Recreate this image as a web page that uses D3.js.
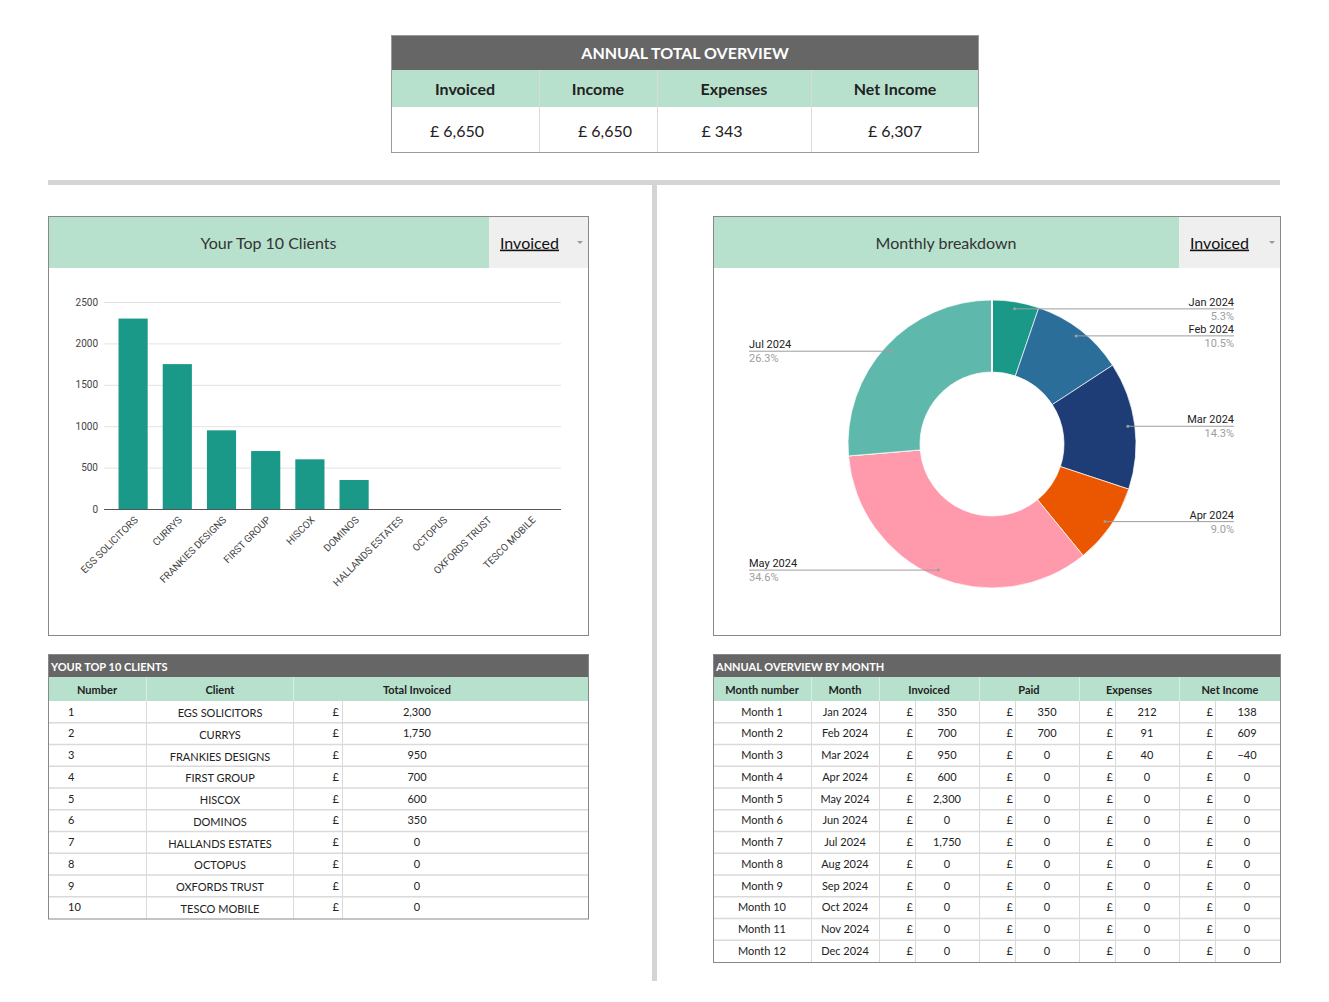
<!DOCTYPE html>
<html>
<head>
<meta charset="utf-8">
<script src="https://cdn.jsdelivr.net/npm/d3@7"></script>
<style>
  body { margin: 0; background: #fff; }
  svg { display: block; }
  .tbl { font-family: Lato, "Open Sans", sans-serif; }
  .chart { font-family: Roboto, Arial, sans-serif; }
</style>
</head>
<body>
<svg id="dash" width="1329" height="1002"></svg>
<script>
// ---- data ----
var totalLabels = ["Invoiced", "Income", "Expenses", "Net Income"];
var totalValues = [6650, 6650, 343, 6307];

var clients = ["EGS SOLICITORS", "CURRYS", "FRANKIES DESIGNS", "FIRST GROUP", "HISCOX",
    "DOMINOS", "HALLANDS ESTATES", "OCTOPUS", "OXFORDS TRUST", "TESCO MOBILE"];
var clientInvoiced = [2300, 1750, 950, 700, 600, 350, 0, 0, 0, 0];
var yTicks = [0, 500, 1000, 1500, 2000, 2500];

var months = ["Jan 2024", "Feb 2024", "Mar 2024", "Apr 2024", "May 2024", "Jun 2024",
    "Jul 2024", "Aug 2024", "Sep 2024", "Oct 2024", "Nov 2024", "Dec 2024"];
var monthInvoiced = [350, 700, 950, 600, 2300, 0, 1750, 0, 0, 0, 0, 0];
var monthPaid = [350, 700, 0, 0, 0, 0, 0, 0, 0, 0, 0, 0];
var monthExpenses = [212, 91, 40, 0, 0, 0, 0, 0, 0, 0, 0, 0];
var monthNet = [138, 609, -40, 0, 0, 0, 0, 0, 0, 0, 0, 0];
var monthColors = ["#1a9988", "#2c6e9a", "#1e3d76", "#eb5600", "#ff9aad", "#7a5195",
    "#5eb8ab", "#ffa600", "#003f5c", "#bc5090", "#58508d", "#ff6361"];

var DARK = "#666666", MINT = "#b7e1cd", LINE = "#dadada", BORDER = "#9a9a9a";
var fmt = d3.format(",");

var svg = d3.select("#dash");

// ---- annual total overview ----
var overview = svg.append("g").attr("class", "tbl");
var topX = 391, topW = [148, 118, 154, 168];
var topValX = [457, 605, 722, 895]; // value cells are not centred in the sheet
var topCols = topW.map(function (w, i) { return { x: topX + d3.sum(topW.slice(0, i)), w: w }; });
var topRight = topX + d3.sum(topW);

overview.append("rect").attr("x", topX).attr("y", 35).attr("width", topRight - topX).attr("height", 35).attr("fill", DARK);
overview.append("text").text("ANNUAL TOTAL OVERVIEW")
    .attr("x", (topX + topRight) / 2).attr("y", 53).attr("dy", ".35em")
    .attr("text-anchor", "middle").attr("fill", "#fff")
    .style("font-size", "16px").style("font-weight", "bold");
overview.append("rect").attr("x", topX).attr("y", 70).attr("width", topRight - topX).attr("height", 37).attr("fill", MINT);
overview.selectAll(".hd").data(totalLabels).join("text")
    .text(function (d) { return d; })
    .attr("x", function (d, i) { return topCols[i].x + topCols[i].w / 2; })
    .attr("y", 89).attr("dy", ".35em").attr("text-anchor", "middle")
    .attr("fill", "#222").style("font-size", "16px").style("font-weight", "bold");
overview.selectAll(".val").data(totalValues).join("text")
    .text(function (d) { return "£ " + fmt(d); })
    .attr("x", function (d, i) { return topValX[i]; })
    .attr("y", 131).attr("dy", ".35em").attr("text-anchor", "middle")
    .attr("fill", "#222").style("font-size", "16px");
overview.selectAll(".vl").data(topCols.slice(1)).join("line")
    .attr("x1", function (d) { return d.x + 0.5; }).attr("x2", function (d) { return d.x + 0.5; })
    .attr("y1", 70).attr("y2", 153).attr("stroke", LINE);
overview.append("rect").attr("x", topX + 0.5).attr("y", 35.5).attr("width", topRight - topX - 1).attr("height", 117)
    .attr("fill", "none").attr("stroke", BORDER);

// ---- separators ----
svg.append("rect").attr("x", 48).attr("y", 180).attr("width", 1232).attr("height", 5).attr("fill", "#d4d4d4");
svg.append("rect").attr("x", 652).attr("y", 185).attr("width", 5).attr("height", 796).attr("fill", "#d4d4d4");

// ---- panel header helper ----
function panel(x0, x1, y0, y1, title, ddx) {
    var g = svg.append("g").attr("class", "tbl");
    g.append("rect").attr("x", x0).attr("y", y0).attr("width", x1 - x0).attr("height", 52).attr("fill", MINT);
    g.append("rect").attr("x", ddx).attr("y", y0).attr("width", x1 - ddx).attr("height", 52).attr("fill", "#efefef");
    g.append("text").text(title).attr("x", (x0 + ddx) / 2).attr("y", y0 + 27).attr("dy", ".35em")
        .attr("text-anchor", "middle").attr("fill", "#333").style("font-size", "16px");
    g.append("text").text("Invoiced").attr("x", ddx + 11).attr("y", y0 + 27).attr("dy", ".35em")
        .attr("fill", "#111").style("font-size", "16px").style("text-decoration", "underline");
    g.append("path").attr("d", "M" + (x1 - 12) + "," + (y0 + 25) + "h6l-3,3z").attr("fill", "#999");
    g.append("rect").attr("x", x0 + 0.5).attr("y", y0 + 0.5).attr("width", x1 - x0 - 1).attr("height", y1 - y0 - 1)
        .attr("fill", "none").attr("stroke", "#888");
    return g;
}
panel(48, 589, 216, 636, "Your Top 10 Clients", 489);
panel(713, 1281, 216, 636, "Monthly breakdown", 1179);

// ---- bar chart ----
var bar = svg.append("g").attr("class", "chart");
var xb = d3.scaleBand().domain(clients).range([111, 553]).paddingInner(0.34).paddingOuter(0.17);
var yb = d3.scaleLinear().domain([0, 2500]).range([509, 302]);

bar.selectAll(".grid").data(yTicks.slice(1)).join("line")
    .attr("x1", 104).attr("x2", 561)
    .attr("y1", function (d) { return yb(d) + 0.5; }).attr("y2", function (d) { return yb(d) + 0.5; })
    .attr("stroke", "#e3e3e3");
bar.selectAll(".ytl").data(yTicks).join("text")
    .text(function (d) { return d; })
    .attr("x", 98).attr("y", function (d) { return yb(d); }).attr("dy", ".35em")
    .attr("text-anchor", "end").attr("fill", "#444").style("font-size", "10px");
bar.selectAll(".bar").data(clientInvoiced).join("rect")
    .attr("x", function (d, i) { return xb(clients[i]); })
    .attr("width", xb.bandwidth())
    .attr("y", function (d) { return yb(d); })
    .attr("height", function (d) { return yb(0) - yb(d); })
    .attr("fill", "#1a9988");
bar.append("line").attr("x1", 104).attr("x2", 561).attr("y1", yb(0) + 0.5).attr("y2", yb(0) + 0.5)
    .attr("stroke", "#555");
bar.selectAll(".xtl").data(clients).join("text")
    .text(function (d) { return d; })
    .attr("transform", function (d) {
        return "translate(" + (xb(d) + xb.bandwidth() / 2 + 3) + "," + (yb(0) + 9) + ") rotate(-45)";
    })
    .attr("dy", ".35em").attr("text-anchor", "end").attr("fill", "#444").style("font-size", "10px");

// ---- donut ----
var cx = 992, cy = 444, rOut = 144, rIn = 72;
var pie = d3.pie().sort(null).value(function (d) { return d; });
var arcs = pie(monthInvoiced);
var arc = d3.arc().innerRadius(rIn).outerRadius(rOut);
var donut = svg.append("g").attr("class", "chart").attr("transform", "translate(" + cx + "," + cy + ")");
donut.selectAll(".slice").data(arcs).join("path")
    .attr("d", arc)
    .attr("fill", function (d, i) { return monthColors[i]; })
    .attr("stroke", "#fff").attr("stroke-width", 0.7);

var total = d3.sum(monthInvoiced);
var lab = svg.append("g").attr("class", "chart");
var labels = arcs.map(function (d, i) { return { a: d, i: i }; }).filter(function (d) { return d.a.value > 0; });
labels.forEach(function (d) {
    var mid = (d.a.startAngle + d.a.endAngle) / 2;
    d.px = cx + 137 * Math.sin(mid);
    d.py = cy - 137 * Math.cos(mid);
    d.right = Math.sin(mid) > 0;
    d.ex = d.right ? 1234 : 749;
    d.ly = d.py;
});
// keep right-hand labels a little apart, like the sheet does
var rightLabs = labels.filter(function (d) { return d.right; }).sort(function (a, b) { return b.py - a.py; });
for (var k = 1; k < rightLabs.length; k++) {
    rightLabs[k].ly = Math.min(rightLabs[k].ly, rightLabs[k - 1].ly - 25);
}
labels.forEach(function (d) {
    lab.append("line").attr("x1", d.px).attr("y1", d.py).attr("x2", d.ex).attr("y2", d.ly)
        .attr("stroke", "#9e9e9e").attr("stroke-width", 1);
    lab.append("circle").attr("cx", d.px).attr("cy", d.py).attr("r", 1.5).attr("fill", "#9e9e9e");
    lab.append("text").text(months[d.i]).attr("x", d.ex).attr("y", d.ly - 3)
        .attr("text-anchor", d.right ? "end" : "start").attr("fill", "#222").style("font-size", "11px");
    lab.append("text").text(d3.format(".1%")(d.a.value / total)).attr("x", d.ex).attr("y", d.ly + 11)
        .attr("text-anchor", d.right ? "end" : "start").attr("fill", "#9e9e9e").style("font-size", "11px");
});

// ---- table helper ----
function table(x0, x1, y0, title, headers, cols, rows) {
    var g = svg.append("g").attr("class", "tbl");
    var rowH = 21.75, hy = y0 + 23, by = hy + 24;
    var yEnd = by + rowH * rows.length;
    g.append("rect").attr("x", x0).attr("y", y0).attr("width", x1 - x0).attr("height", 23).attr("fill", DARK);
    g.append("text").text(title).attr("x", x0 + 3).attr("y", y0 + 13).attr("dy", ".35em")
        .attr("fill", "#fff").style("font-size", "11px").style("font-weight", "bold");
    g.append("rect").attr("x", x0).attr("y", hy).attr("width", x1 - x0).attr("height", 24).attr("fill", MINT);
    g.selectAll(".hd").data(headers).join("text")
        .text(function (d) { return d.t; })
        .attr("x", function (d) { return d.x; }).attr("y", hy + 13).attr("dy", ".35em")
        .attr("text-anchor", "middle").attr("fill", "#222").style("font-size", "11px").style("font-weight", "bold");
    g.selectAll(".hl").data(headers.slice(1)).join("line")
        .attr("x1", function (d) { return d.x0 + 0.5; }).attr("x2", function (d) { return d.x0 + 0.5; })
        .attr("y1", hy).attr("y2", by).attr("stroke", "#d8eee3");
    g.selectAll(".rl").data(d3.range(1, rows.length)).join("line")
        .attr("x1", x0).attr("x2", x1)
        .attr("y1", function (d) { return by + d * rowH; }).attr("y2", function (d) { return by + d * rowH; })
        .attr("stroke", LINE).attr("stroke-width", 1.5);
    g.selectAll(".cl").data(cols.filter(function (c) { return c.line; })).join("line")
        .attr("x1", function (d) { return d.x0 + 0.5; }).attr("x2", function (d) { return d.x0 + 0.5; })
        .attr("y1", by).attr("y2", yEnd).attr("stroke", LINE);
    rows.forEach(function (r, ri) {
        cols.forEach(function (c, ci) {
            g.append("text").text(r[ci])
                .attr("x", c.tx).attr("y", by + ri * rowH + rowH / 2 + (c.dy || 0)).attr("dy", ".35em")
                .attr("text-anchor", c.anchor).attr("fill", "#222").style("font-size", "11px");
        });
    });
    g.append("rect").attr("x", x0 + 0.5).attr("y", y0 + 0.5).attr("width", x1 - x0 - 1).attr("height", yEnd - y0)
        .attr("fill", "none").attr("stroke", "#888");
}

// left table: top 10 clients
table(48, 589, 654, "YOUR TOP 10 CLIENTS",
    [{ t: "Number", x: 97, x0: 48 }, { t: "Client", x: 220, x0: 146 }, { t: "Total Invoiced", x: 417, x0: 293 }],
    [{ tx: 68, anchor: "start", x0: 48 },
     { tx: 220, anchor: "middle", x0: 146, line: true, dy: 1.5 },
     { tx: 339, anchor: "end", x0: 293, line: true },
     { tx: 417, anchor: "middle", x0: 342, line: true }],
    clients.map(function (c, i) { return [i + 1, c, "£", fmt(clientInvoiced[i])]; }));

// right table: annual overview by month
var mEdges = [713, 811, 879, 979, 1079, 1179, 1281];
var mHeads = ["Month number", "Month", "Invoiced", "Paid", "Expenses", "Net Income"];
var mCols = [{ tx: 762, anchor: "middle", x0: 713 }, { tx: 845, anchor: "middle", x0: 811, line: true }];
[879, 979, 1079, 1179].forEach(function (e) {
    mCols.push({ tx: e + 34, anchor: "end", x0: e, line: true });
    mCols.push({ tx: e + 68, anchor: "middle", x0: e + 36, line: true });
});
table(713, 1281, 654, "ANNUAL OVERVIEW BY MONTH",
    mHeads.map(function (h, i) { return { t: h, x: (mEdges[i] + mEdges[i + 1]) / 2, x0: mEdges[i] }; }),
    mCols,
    months.map(function (m, i) {
        return ["Month " + (i + 1), m, "£", fmt(monthInvoiced[i]), "£", fmt(monthPaid[i]),
            "£", fmt(monthExpenses[i]), "£", fmt(monthNet[i])];
    }));
</script>
</body>
</html>
